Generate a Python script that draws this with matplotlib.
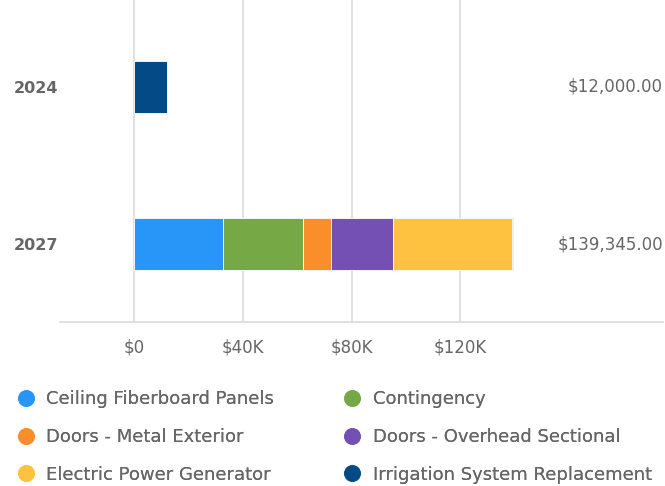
import matplotlib
matplotlib.use("Agg")
from matplotlib import pyplot as plt
from matplotlib.lines import Line2D
from matplotlib.transforms import blended_transform_factory

# data
years = ["2024", "2027"]
series = ["Ceiling Fiberboard Panels", "Contingency", "Doors - Metal Exterior",
          "Doors - Overhead Sectional", "Electric Power Generator",
          "Irrigation System Replacement"]
values = {
    "Ceiling Fiberboard Panels": [0, 32800],
    "Contingency": [0, 29400],
    "Doors - Metal Exterior": [0, 10400],
    "Doors - Overhead Sectional": [0, 22700],
    "Electric Power Generator": [0, 43600],
    "Irrigation System Replacement": [12000, 445],
}
totals = [12000.00, 139345.00]
tick_vals = [0, 40000, 80000, 120000]
tick_labels = ["$0", "$40K", "$80K", "$120K"]

colors = ["#2896f8", "#76a846", "#f98e2b", "#7450b5", "#fec240", "#044a87"]
txt = "#666666"

fig = plt.figure(figsize=(6.65, 4.86), dpi=100)
ax = fig.add_axes([60/665, 164/486, 603/665, 322/486])

ypos = list(range(len(years)))
left = [0] * len(years)
for name, c in zip(series, colors):
    v = values[name]
    ax.barh(ypos, v, left=left, height=0.33, color=c, edgecolor="white",
            linewidth=0.6, zorder=3)
    left = [a + b for a, b in zip(left, v)]

ax.set_xlim(-27300, 194600)
ax.set_ylim(1.495, -0.55)
ax.set_xticks(tick_vals)
ax.set_xticklabels(tick_labels, fontsize=12, color=txt)
ax.set_yticks(ypos)
ax.set_yticklabels(years, fontsize=11.5, color=txt, fontweight="bold")
ax.tick_params(axis="both", length=0)
ax.tick_params(axis="x", pad=12)
ax.tick_params(axis="y", pad=1)
ax.grid(axis="x", color="#dddddd", linewidth=1.3, zorder=0)
for s in ["top", "right", "left"]:
    ax.spines[s].set_visible(False)
ax.spines["bottom"].set_color("#dddddd")
ax.spines["bottom"].set_linewidth(1.3)

tr = blended_transform_factory(ax.transAxes, ax.transData)
for y, t in zip(ypos, totals):
    ax.text(1.0, y, "${:,.2f}".format(t), transform=tr, ha="right",
            va="center", fontsize=12, color=txt)

# legend, two columns placed separately
handles = [Line2D([], [], marker="o", linestyle="", markersize=11,
                  markerfacecolor=c, markeredgecolor=c) for c in colors]
for cols, x0 in [([0, 2, 4], 0.014), ([1, 3, 5], 0.505)]:
    leg = fig.legend([handles[i] for i in cols], [series[i] for i in cols],
                     loc="upper left", bbox_to_anchor=(x0, 0.212),
                     frameon=False, fontsize=13, labelcolor=txt,
                     handletextpad=0.65, labelspacing=1.09,
                     handlelength=1.0, borderaxespad=0)
    fig.add_artist(leg)

fig.savefig("out.png", dpi=100)
